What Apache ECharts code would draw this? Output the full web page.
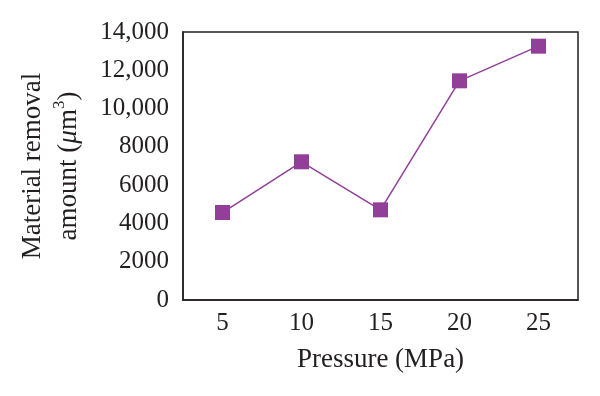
<!DOCTYPE html>
<html>
<head>
<meta charset="utf-8">
<script src="https://cdn.jsdelivr.net/npm/echarts@6/dist/echarts.min.js"></script>
<style>
  html, body { margin: 0; padding: 0; background: #fff; }
  #chart { width: 600px; height: 396px; }
</style>
</head>
<body>
<div id="chart"></div>
<script>
  // pressure levels (MPa) and removal amount (um^3)
  var pressures = ['5', '10', '15', '20', '25'];
  var removal = [4570, 7220, 4710, 11450, 13260];

  var serif = '"Liberation Serif", "DejaVu Serif", serif';
  var ink = '#231f20';
  var purple = '#913f98';

  var chart = echarts.init(document.getElementById('chart'));
  var option = {
    animation: false,
    textStyle: { fontFamily: serif, color: ink },
    grid: {
      left: 183, right: 22, top: 32, bottom: 96,
      show: true, borderColor: ink, borderWidth: 1.5
    },
    xAxis: [
      {
        type: 'category',
        data: pressures,
        boundaryGap: true,
        name: 'Pressure (MPa)',
        nameLocation: 'middle',
        nameGap: 46,
        nameTextStyle: { fontSize: 27, color: ink, fontFamily: serif },
        axisLine: { lineStyle: { color: ink, width: 1.5 } },
        axisTick: { inside: true, length: 10, lineStyle: { color: ink, width: 1.2 } },
        axisLabel: { fontSize: 25, color: ink, margin: 11, fontFamily: serif },
        splitLine: { show: false }
      },
      {
        // short ticks under each category
        type: 'category',
        data: pressures,
        position: 'bottom',
        axisLine: { show: false },
        axisTick: { inside: true, alignWithLabel: true, length: 4, lineStyle: { color: ink, width: 1.2 } },
        axisLabel: { show: false },
        splitLine: { show: false }
      }
    ],
    yAxis: {
      type: 'value',
      min: 0,
      max: 14000,
      interval: 2000,
      name: '{t|Material removal}\n{t|amount (}{i|μ}{t|m}{s|3}{t|)}',
      nameLocation: 'middle',
      nameRotate: 90,
      nameGap: 96,
      nameTextStyle: {
        color: ink,
        fontFamily: serif,
        rich: {
          t: { fontSize: 27, fontFamily: serif, color: ink, lineHeight: 36 },
          i: { fontSize: 27, fontFamily: serif, fontStyle: 'italic', color: ink, lineHeight: 36 },
          s: { fontSize: 17, fontFamily: serif, color: ink, verticalAlign: 'top', lineHeight: 20 }
        }
      },
      axisLine: { show: true, lineStyle: { color: ink, width: 1.5 } },
      axisTick: { inside: true, length: 4, lineStyle: { color: ink, width: 1.2 } },
      axisLabel: {
        fontSize: 25, color: ink, margin: 14, fontFamily: serif,
        formatter: function (v) {
          return v >= 10000 ? echarts.format.addCommas(v) : String(v);
        }
      },
      splitLine: { show: false }
    },
    series: [
      {
        type: 'line',
        data: removal,
        symbol: 'rect',
        symbolSize: 15,
        itemStyle: { color: purple },
        lineStyle: { color: purple, width: 1.5 }
      }
    ]
  };
  chart.setOption(option);
</script>
</body>
</html>
